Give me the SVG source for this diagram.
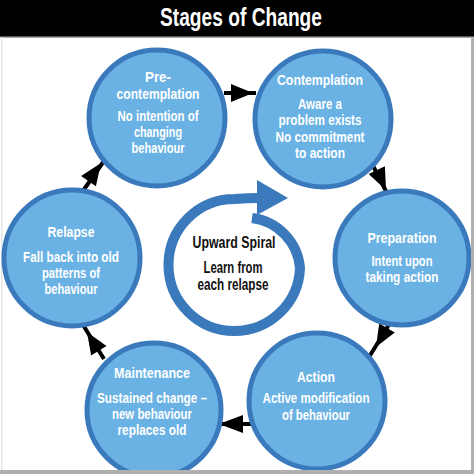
<svg xmlns="http://www.w3.org/2000/svg" width="474" height="474" viewBox="0 0 474 474">
<defs>
<style>
.node{fill:#6ab2e4;stroke:#3a79bb;stroke-width:5}
.t{font-family:"Liberation Sans Narrow","Liberation Sans",Arial,sans-serif;font-weight:bold;font-size:15px;fill:#ffffff;text-anchor:middle}
.c{font-family:"Liberation Sans Narrow","Liberation Sans",Arial,sans-serif;font-weight:bold;font-size:16px;fill:#111111;text-anchor:middle}
.ln{stroke:#000;stroke-width:4;fill:none}
.hd{fill:#000}
</style>
</defs>
<rect x="0" y="0" width="474" height="474" fill="#ffffff"/>
<rect x="0" y="0" width="474" height="36" fill="#000000"/>
<rect x="0" y="36" width="474" height="1.5" fill="#555555"/>
<rect x="1" y="37" width="1.5" height="437" fill="#e6e6e6"/>
<text x="241" y="26" font-family="'Liberation Sans Narrow','Liberation Sans',Arial,sans-serif" font-weight="bold" font-size="26" fill="#ffffff" text-anchor="middle" textLength="162" lengthAdjust="spacingAndGlyphs">Stages of Change</text>

<g id="connectors">
<line class="ln" x1="224" y1="93" x2="256" y2="93"/>
<polygon class="hd" points="253,93 231,84 231,102"/>
<line class="ln" x1="369" y1="158" x2="389" y2="197"/>
<polygon class="hd" points="386,190 384.9,166.3 368.6,173.9"/>
<line class="ln" x1="393" y1="318" x2="366" y2="362"/>
<polygon class="hd" points="376,347 394.8,332.5 379.2,323.5"/>
<line class="ln" x1="255" y1="424" x2="215" y2="424"/>
<polygon class="hd" points="219,424 243,415 243,433"/>
<line class="ln" x1="104" y1="359" x2="80" y2="320"/>
<polygon class="hd" points="87,332 91.1,355.4 106.5,345.9"/>
<line class="ln" x1="78" y1="198" x2="106" y2="158"/>
<polygon class="hd" points="101,163 95.9,186.3 81.1,176.1"/>
</g>

<g id="spiral">
<path d="M252,218 A55,55 0 0 1 300,268 A65.5,65.5 0 0 1 234.5,331 A66,66 0 0 1 168.5,265 A66,66 0 0 1 234.5,199 Q248,198 260,198" fill="none" stroke="#3a79bb" stroke-width="10"/>
<polygon points="257,180 288,198 257,215" fill="#3a79bb"/>
<text class="c" x="234" y="248" textLength="83" lengthAdjust="spacingAndGlyphs">Upward Spiral</text>
<text class="c" x="233" y="273" textLength="59" lengthAdjust="spacingAndGlyphs">Learn from</text>
<text class="c" x="233" y="290" textLength="71" lengthAdjust="spacingAndGlyphs">each relapse</text>
</g>

<g id="precontemplation">
<circle class="node" cx="157" cy="118" r="68"/>
<text class="t" x="158" y="81.5" textLength="26" lengthAdjust="spacingAndGlyphs">Pre-</text>
<text class="t" x="158" y="98.5" textLength="83" lengthAdjust="spacingAndGlyphs">contemplation</text>
<text class="t" x="158" y="121" textLength="81" lengthAdjust="spacingAndGlyphs">No intention of</text>
<text class="t" x="158" y="137" textLength="48" lengthAdjust="spacingAndGlyphs">changing</text>
<text class="t" x="158" y="153" textLength="53" lengthAdjust="spacingAndGlyphs">behaviour</text>
</g>

<g id="contemplation">
<circle class="node" cx="323" cy="119" r="68"/>
<text class="t" x="320" y="85" textLength="86" lengthAdjust="spacingAndGlyphs">Contemplation</text>
<text class="t" x="320" y="109" textLength="44" lengthAdjust="spacingAndGlyphs">Aware a</text>
<text class="t" x="320" y="125" textLength="83" lengthAdjust="spacingAndGlyphs">problem exists</text>
<text class="t" x="320" y="142" textLength="89" lengthAdjust="spacingAndGlyphs">No commitment</text>
<text class="t" x="320" y="158" textLength="50" lengthAdjust="spacingAndGlyphs">to action</text>
</g>

<g id="preparation">
<circle class="node" cx="402" cy="258" r="67"/>
<text class="t" x="402" y="243" textLength="69" lengthAdjust="spacingAndGlyphs">Preparation</text>
<text class="t" x="402" y="266" textLength="61" lengthAdjust="spacingAndGlyphs">Intent upon</text>
<text class="t" x="402" y="282" textLength="73" lengthAdjust="spacingAndGlyphs">taking action</text>
</g>

<g id="action">
<circle class="node" cx="317" cy="401" r="68"/>
<text class="t" x="316" y="382" textLength="38" lengthAdjust="spacingAndGlyphs">Action</text>
<text class="t" x="316" y="403" textLength="107" lengthAdjust="spacingAndGlyphs">Active modification</text>
<text class="t" x="316" y="420" textLength="68" lengthAdjust="spacingAndGlyphs">of behaviour</text>
</g>

<g id="maintenance">
<circle class="node" cx="154" cy="410" r="67"/>
<text class="t" x="152" y="378" textLength="76" lengthAdjust="spacingAndGlyphs">Maintenance</text>
<text class="t" x="152" y="403" textLength="110" lengthAdjust="spacingAndGlyphs">Sustained change –</text>
<text class="t" x="152" y="419" textLength="80" lengthAdjust="spacingAndGlyphs">new behaviour</text>
<text class="t" x="152" y="435" textLength="69" lengthAdjust="spacingAndGlyphs">replaces old</text>
</g>

<g id="relapse">
<circle class="node" cx="72" cy="258" r="68"/>
<text class="t" x="71" y="237" textLength="47" lengthAdjust="spacingAndGlyphs">Relapse</text>
<text class="t" x="71" y="262" textLength="96" lengthAdjust="spacingAndGlyphs">Fall back into old</text>
<text class="t" x="71" y="278" textLength="58" lengthAdjust="spacingAndGlyphs">patterns of</text>
<text class="t" x="71" y="294" textLength="53" lengthAdjust="spacingAndGlyphs">behaviour</text>
</g>
<rect x="0" y="470" width="474" height="4" fill="#b0b0b0"/>
<rect x="471" y="37" width="3" height="437" fill="#b0b0b0"/>
</svg>
